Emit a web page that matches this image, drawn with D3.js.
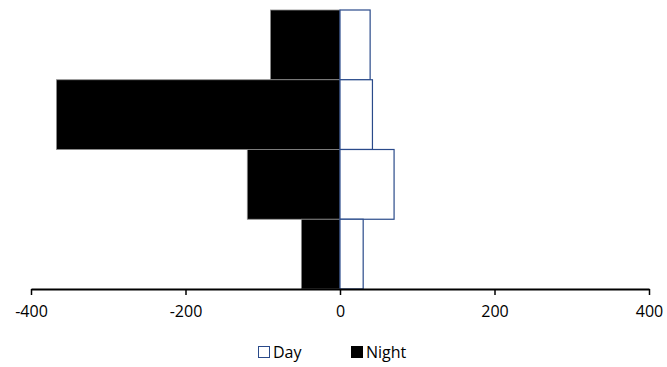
<!DOCTYPE html>
<html>
<head>
<meta charset="utf-8">
<script src="https://cdn.jsdelivr.net/npm/d3@7"></script>
<style>
  body { margin: 0; background: #fff; }
  text { font-family: "Open Sans", "Liberation Sans", sans-serif; }
</style>
</head>
<body>
<div id="chart"></div>
<script>
// data, top to bottom
var categories = ["A", "B", "C", "D"];
var dayValues = [39, 42, 70, 30];
var nightValues = [-90, -367, -120, -50];
var tickValues = [-400, -200, 0, 200, 400];

var width = 667, height = 367;
var margin = {top: 10, right: 18, bottom: 78, left: 31};

var svg = d3.select("#chart")
    .append("svg")
    .attr("width", width)
    .attr("height", height);

var xScale = d3.scaleLinear()
    .domain([-400, 400])
    .range([margin.left, width - margin.right]);

var yScale = d3.scaleBand()
    .domain(categories)
    .range([margin.top, height - margin.bottom])
    .padding(0);

// night bars (black, left of zero)
svg.selectAll(".night")
    .data(categories)
    .enter()
    .append("rect")
    .attr("class", "night")
    .attr("x", function(d, i) { return xScale(nightValues[i]); })
    .attr("y", function(d) { return yScale(d); })
    .attr("width", function(d, i) { return xScale(0) - xScale(nightValues[i]); })
    .attr("height", yScale.bandwidth())
    .style("fill", "#000")
    .style("stroke", "#8c8c8c")
    .style("stroke-width", 0.8);

// day bars (white with blue edge)
svg.selectAll(".day")
    .data(categories)
    .enter()
    .append("rect")
    .attr("class", "day")
    .attr("x", xScale(0))
    .attr("y", function(d) { return yScale(d); })
    .attr("width", function(d, i) { return xScale(dayValues[i]) - xScale(0); })
    .attr("height", yScale.bandwidth())
    .style("fill", "#fff")
    .style("stroke", "#2a4a8a")
    .style("stroke-width", 1.2);

// x axis
var xAxis = svg.append("g")
    .attr("transform", "translate(0," + (height - margin.bottom) + ")")
    .call(d3.axisBottom(xScale)
        .tickValues(tickValues)
        .tickFormat(function(d) { return String(d); })
        .tickSize(6).tickSizeOuter(0).tickPadding(11));

xAxis.select(".domain").style("stroke", "#000").style("stroke-width", 2);
xAxis.selectAll(".tick line").style("stroke", "#000").style("stroke-width", 1.5);
xAxis.selectAll(".tick text")
    .style("font-size", "16px")
    .style("fill", "#000")
    .style("font-family", "'Open Sans', sans-serif");

// legend
var legend = [
    {label: "Day", fill: "#fff", stroke: "#2a4a8a", x: 258},
    {label: "Night", fill: "#000", stroke: "#000", x: 351}
];
var lg = svg.selectAll(".legend")
    .data(legend)
    .enter()
    .append("g")
    .attr("class", "legend")
    .attr("transform", function(d) { return "translate(" + d.x + ",346)"; });

lg.append("rect")
    .attr("x", 0.5)
    .attr("y", 0.5)
    .attr("width", 11)
    .attr("height", 11)
    .style("fill", function(d) { return d.fill; })
    .style("stroke", function(d) { return d.stroke; });

lg.append("text")
    .attr("x", 15)
    .attr("y", 12)
    .style("font-size", "16px")
    .style("fill", "#000")
    .text(function(d) { return d.label; });
</script>
</body>
</html>
